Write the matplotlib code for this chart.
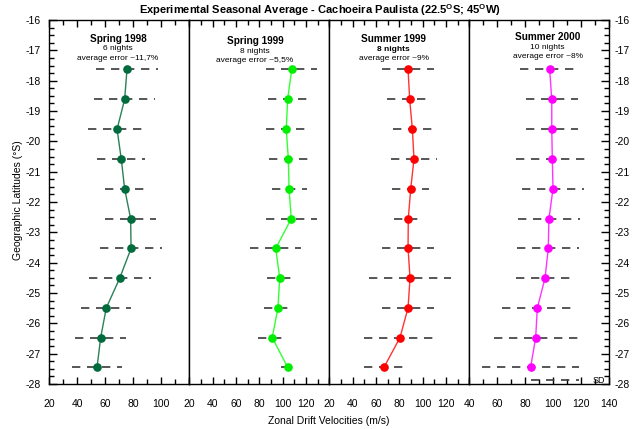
import matplotlib
matplotlib.use("Agg")
import matplotlib.pyplot as plt
from matplotlib.ticker import MultipleLocator, FixedLocator

plt.rcParams['font.family'] = ['Liberation Sans', 'DejaVu Sans']
plt.rcParams['mathtext.fontset'] = 'custom'
plt.rcParams['mathtext.rm'] = 'Liberation Sans'
plt.rcParams['mathtext.bf'] = 'Liberation Sans:bold'

# ---------------- data ----------------
lats = [-17.63, -18.62, -19.60, -20.58, -21.56, -22.55, -23.53, -24.51, -25.49, -26.47, -27.45]

spring98 = [75.5, 73.8, 68.4, 71.4, 73.8, 78.1, 78.4, 70.3, 60.7, 56.7, 54.1]
spring98_sd = [22, 22, 21, 17, 14, 18, 22, 22, 18, 18, 18]

spring99 = [107.8, 104.3, 103.1, 104.9, 105.5, 107.4, 94.1, 97.5, 96.0, 91.1, 104.3]
spring99_sd = [22, 17, 17, 17, 15, 22, 22, 11, 12, 12, 6]

summer99 = [87.5, 88.9, 91.2, 92.6, 89.8, 87.7, 87.5, 89.2, 87.5, 80.6, 66.9]
summer99_sd = [22, 19.5, 17, 20, 16, 12, 22, 35, 22, 31, 17]

summer00 = [97.4, 98.9, 98.9, 99.3, 99.8, 96.9, 96.4, 94.1, 88.6, 87.4, 83.8]
summer00_sd = [21, 18.5, 18.5, 25.6, 22, 22, 22, 20.6, 25, 30, 34.5]

titles = ["Spring 1998", "Spring 1999", "Summer 1999", "Summer 2000"]
nights = ["6 nights", "8 nights", "8 nights", "10 nights"]
errors = ["average error ~11,7%", "average error ~5,5%", "average error ~9%", "average error ~8%"]

xlims = [(20, 120), (20, 140), (20, 140), (40, 140)]
xlabels_shown = [[20, 40, 60, 80, 100], [20, 40, 60, 80, 100, 120],
                 [20, 40, 60, 80, 100, 120], [40, 60, 80, 100, 120, 140]]
yticks = list(range(-16, -29, -1))

sd_legend_x = (83.8, 118.4)
sd_legend_y = -27.88

# ---------------- styles ----------------
series = [spring98, spring99, summer99, summer00]
sds = [spring98_sd, spring99_sd, summer99_sd, summer00_sd]
mcolors = ['#006b3c', '#00ee00', '#ff0000', '#ff00ff']
lcolors = ['#2a8059', '#33ff33', '#ff3333', '#ff33ff']
title_pos = [(0.49, 39), (0.47, 41.5), (0.46, 39.5), (0.56, 37.5)]

W, H = 639, 429
fig = plt.figure(figsize=(W / 100, H / 100), dpi=100)

left_px, right_px, top_px, bot_px = 49.3, 609.3, 20, 384
pw = (right_px - left_px) / 4

def yfrac(ypx):
    return 1 - (ypx - top_px) / (bot_px - top_px)

axes = []
for i in range(4):
    ax = fig.add_axes([(left_px + i * pw) / W, 1 - bot_px / H, pw / W, (bot_px - top_px) / H])
    axes.append(ax)
    ax.set_xlim(*xlims[i])
    ax.set_ylim(-28, -16)
    for sp in ax.spines.values():
        sp.set_linewidth(1.0)
        sp.set_color('black')

    # error bars (dashed SD lines)
    for v, s, la in zip(series[i], sds[i], lats):
        ax.plot([v - s, v + s], [la, la], color='#3a3a3a', lw=1.2,
                linestyle=(0, (5, 4)), zorder=2)
    ax.plot(series[i], lats, color=lcolors[i], lw=1.0, zorder=3)
    ax.plot(series[i], lats, 'o', color=mcolors[i], ms=5.2, mec=mcolors[i], zorder=4)

    # x ticks
    ax.xaxis.set_major_locator(FixedLocator(xlabels_shown[i]))
    ax.xaxis.set_minor_locator(MultipleLocator(10))
    ax.tick_params(axis='x', which='both', direction='in', top=True, bottom=True,
                   labelsize=7.5, pad=11)
    ax.tick_params(axis='x', which='major', length=5, width=1)
    ax.tick_params(axis='x', which='minor', length=3.5, width=1)

    # y ticks
    ax.yaxis.set_major_locator(FixedLocator(yticks))
    ax.yaxis.set_minor_locator(MultipleLocator(0.25))
    if i == 0:
        ax.tick_params(axis='y', which='both', direction='in', left=True, right=False,
                       labelleft=True, labelsize=7.5, pad=6)
    elif i == 3:
        ax.tick_params(axis='y', which='both', direction='in', left=False, right=True,
                       labelleft=False, labelright=True, labelsize=7.5, pad=4)
    else:
        ax.tick_params(axis='y', which='both', left=False, right=False,
                       labelleft=False, labelright=False)
    ax.tick_params(axis='y', which='major', length=6, width=1)
    ax.tick_params(axis='y', which='minor', length=3.5, width=1)
    if i in (0, 3):
        ax.set_yticklabels([str(t) for t in yticks])

    # panel texts
    tx, ty = title_pos[i]
    ax.text(tx, yfrac(ty), titles[i], transform=ax.transAxes, ha='center', va='center',
            fontsize=7.2, fontweight='bold')
    ax.text(tx, yfrac(ty + 10), nights[i], transform=ax.transAxes, ha='center', va='center',
            fontsize=6, fontweight='bold' if i == 2 else 'normal')
    ax.text(tx, yfrac(ty + 19), errors[i], transform=ax.transAxes, ha='center', va='center',
            fontsize=6)

# SD legend in last panel
axes[3].plot(list(sd_legend_x), [sd_legend_y, sd_legend_y], color='#3a3a3a', lw=1.2,
             linestyle=(0, (5, 4)))
axes[3].text(128, sd_legend_y, "SD", ha='left', va='center', fontsize=6.5)

fig.text(320 / W, 1 - 10 / H,
         r"Experimental Seasonal Average - Cachoeira Paulista (22.5$^{\mathbf{O}}$S; 45$^{\mathbf{O}}$W)",
         ha='center', va='center', fontsize=8, fontweight='bold')
fig.text(329 / W, 1 - 421 / H, "Zonal Drift Velocities (m/s)", ha='center', va='center',
         fontsize=7.5)
fig.text(18 / W, 1 - 200 / H, "Geographic Latitudes (°S)", ha='center', va='center',
         rotation=90, fontsize=7.5)

fig.savefig("out.png", dpi=100)
